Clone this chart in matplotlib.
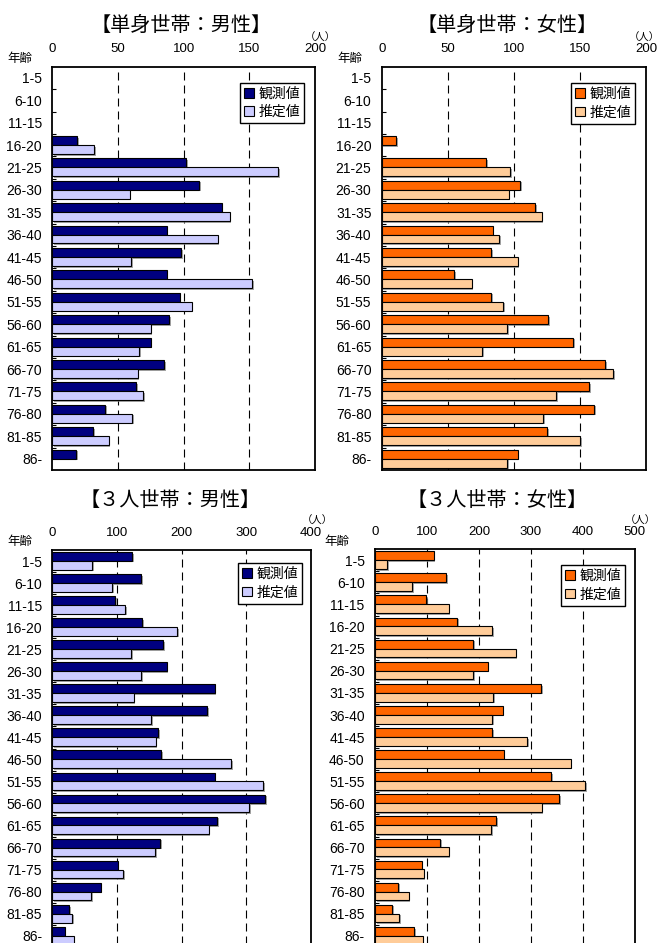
import matplotlib
matplotlib.use("Agg")
import matplotlib.pyplot as plt
from matplotlib.patches import Patch
from matplotlib import patheffects as pe
import numpy as np

plt.rcParams['font.family'] = ['Liberation Sans', 'Noto Sans CJK JP']

# ---- data -------------------------------------------------------------
ages = ["1-5", "6-10", "11-15", "16-20", "21-25", "26-30", "31-35", "36-40",
        "41-45", "46-50", "51-55", "56-60", "61-65", "66-70", "71-75",
        "76-80", "81-85", "86-"]

single_male_obs = [0, 0, 0, 19, 102, 112, 129, 87, 98, 87, 97, 89, 75, 85, 64, 40, 31, 18]
single_male_est = [0, 0, 0, 32, 172, 59, 135, 126, 60, 152, 106, 75, 66, 65, 69, 61, 43, 0]

single_female_obs = [0, 0, 0, 11, 79, 105, 116, 84, 83, 55, 83, 126, 145, 169, 157, 161, 125, 103]
single_female_est = [0, 0, 0, 0, 97, 96, 121, 89, 103, 68, 92, 95, 76, 175, 132, 122, 150, 95]

three_male_obs = [124, 137, 97, 139, 171, 177, 251, 239, 164, 168, 251, 329, 255, 167, 101, 75, 26, 19]
three_male_est = [62, 93, 113, 193, 122, 137, 126, 153, 160, 277, 326, 304, 242, 159, 110, 60, 31, 33]

three_female_obs = [113, 137, 98, 158, 189, 217, 320, 246, 226, 248, 339, 355, 233, 126, 90, 45, 33, 76]
three_female_est = [24, 72, 142, 226, 271, 189, 228, 226, 293, 377, 405, 321, 224, 142, 94, 65, 47, 92]

legend_labels = ["観測値", "推定値"]
axis_label_age = "年齢"
unit_label = "（人）"

titles = ["【単身世帯：男性】", "【単身世帯：女性】", "【３人世帯：男性】", "【３人世帯：女性】"]
xmaxes = [200, 200, 400, 500]
xsteps = [50, 50, 100, 100]

# ---- styling ------------------------------------------------------------
MALE = ("#000080", "#CCCCFF")
FEMALE = ("#FF6600", "#FFCC99")
CJK = ["Noto Sans CJK JP", "DejaVu Sans"]

W, H = 659, 943
fig = plt.figure(figsize=(W / 100, H / 100), dpi=100)


def px_axes(left, top, right, bottom):
    return fig.add_axes([left / W, 1 - bottom / H, (right - left) / W, (bottom - top) / H])


panels = [
    dict(rect=(52.3, 66.7, 315, 470), obs=single_male_obs, est=single_male_est,
         colors=MALE, title_xy=(181, 25), leg_xy=(304, 82.7), age_xy=(20, 58.5),
         unit_x=320),
    dict(rect=(381.7, 66.7, 646, 470), obs=single_female_obs, est=single_female_est,
         colors=FEMALE, title_xy=(507.5, 25), leg_xy=(635, 83), age_xy=(349.5, 58.5),
         unit_x=644),
    dict(rect=(52.3, 550, 311, 947), obs=three_male_obs, est=three_male_est,
         colors=MALE, title_xy=(170, 500), leg_xy=(302, 563), age_xy=(20, 541),
         unit_x=317),
    dict(rect=(375, 549.3, 634.7, 947), obs=three_female_obs, est=three_female_est,
         colors=FEMALE, title_xy=(497.5, 500.7), leg_xy=(625, 565), age_xy=(337, 541),
         unit_x=640.7),
]

shadow = [pe.SimplePatchShadow(offset=(1.2, -1.2), shadow_rgbFace="#808080", alpha=0.7),
          pe.Normal()]

y = np.arange(len(ages))
for p, title, xmax, step in zip(panels, titles, xmaxes, xsteps):
    left, top, right, bottom = p["rect"]
    ax = px_axes(left, top, right, bottom)
    c_obs, c_est = p["colors"]

    for vals, off, col in ((p["obs"], -0.21, c_obs), (p["est"], 0.19, c_est)):
        bars = ax.barh(y + off, vals, height=0.4, color=col, edgecolor="black",
                       linewidth=0.8, zorder=3)
        for b, v in zip(bars, vals):
            if v == 0:
                b.set_visible(False)
            else:
                b.set_path_effects(shadow)

    ticks = np.arange(0, xmax + step, step)
    for t in ticks[1:-1]:
        ax.axvline(t, color="black", lw=0.8, dashes=(7.2, 4.5), zorder=1)

    ax.set_xlim(0, xmax)
    ax.set_ylim(len(ages) - 0.5, -0.5)
    ax.set_xticks(ticks)
    ax.xaxis.tick_top()
    ax.tick_params(axis="x", length=0, pad=8.2, labelsize=9.5)
    ax.set_yticks(y)
    ax.set_yticklabels(ages)
    ax.tick_params(axis="y", which="major", length=0, pad=7.4, labelsize=10)
    ax.set_yticks(y[:-1] + 0.5, minor=True)
    ax.tick_params(axis="y", which="minor", direction="in", length=3, width=0.8, left=True)
    for s in ax.spines.values():
        s.set_linewidth(1.3)
        s.set_color("black")

    handles = [Patch(facecolor=c_obs, edgecolor="black", lw=0.8),
               Patch(facecolor=c_est, edgecolor="black", lw=0.8)]
    lx, ly = p["leg_xy"]
    leg = ax.legend(handles, legend_labels, loc="upper right",
                    bbox_to_anchor=(lx / W, 1 - ly / H), bbox_transform=fig.transFigure,
                    frameon=True, fancybox=False, edgecolor="black", framealpha=1,
                    fontsize=10, handlelength=0.7, handleheight=0.7, handletextpad=0.3,
                    borderpad=0.3, labelspacing=0.3, borderaxespad=0)
    leg.get_frame().set_linewidth(1.0)

    tx, ty = p["title_xy"]
    fig.text(tx / W, 1 - ty / H, title, ha="center", va="center", fontsize=14.5, family=CJK)
    axx, axy = p["age_xy"]
    fig.text(axx / W, 1 - axy / H, axis_label_age, ha="center", va="center", fontsize=9,
             family=CJK)
    fig.text(p["unit_x"] / W, 1 - (top - 29) / H, unit_label, ha="center", va="center",
             fontsize=7.5, family=CJK)

fig.savefig("out.png", dpi=100)
